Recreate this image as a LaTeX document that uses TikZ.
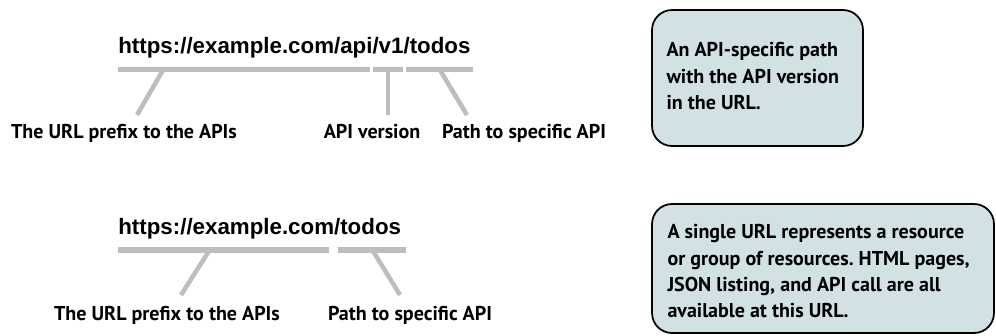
\documentclass[tikz,border=0pt]{standalone}
\usepackage{fontspec}
\setmainfont{PT Sans}
\newfontfamily\urlfont{Liberation Sans}
\usetikzlibrary{positioning}
\definecolor{bargray}{RGB}{188,190,192}
\definecolor{notefill}{RGB}{210,225,228}
\frenchspacing

\begin{document}
\begin{tikzpicture}[
    x=0.02cm, y=-0.02cm,
    url/.style={anchor=base west, inner sep=0pt, font=\urlfont\bfseries\fontsize{12.7}{15}\selectfont},
    part/.style={anchor=base, inner sep=0pt, font=\bfseries\fontsize{11.4}{15}\selectfont},
    bar/.style={draw=bargray, line width=2.9pt},
    leg/.style={draw=bargray, line width=2.6pt},
    notebox/.style={rectangle, draw=black, line width=1pt, fill=notefill, rounded corners=0.4cm},
    notetext/.style={anchor=north west, inner sep=0pt, align=left, font=\bfseries\fontsize{11.4}{15}\selectfont,
        execute at begin node={\setlength{\baselineskip}{15pt}}}
]
\useasboundingbox (0,0) rectangle (996,335);

% Versioned URL
\node[url] (urlv) at (118,53) {https://example.com/api/v1/todos};
\draw[bar] (118,69.5) -- (370,69.5);
\draw[bar] (373,69.5) -- (403,69.5);
\draw[bar] (406,69.5) -- (473,69.5);

\node[part] (prefixv) at (124,138) {The URL prefix to the APIs};
\node[part] (version) at (372,138) {API version};
\node[part] (pathv) at (524,138) {Path to specific API};

\coordinate (prefixvtop) at (163,70);
\coordinate (prefixvend) at (137,115);
\coordinate (versiontop) at (388,70);
\coordinate (versionend) at (388,115);
\coordinate (pathvtop) at (440,70);
\coordinate (pathvend) at (467,115);

\draw[leg] (prefixvtop) -- (prefixvend);
\draw[leg] (versiontop) -- (versionend);
\draw[leg] (pathvtop) -- (pathvend);

% Plain URL
\node[url] (urlp) at (118,234) {https://example.com/todos};
\draw[bar] (118,250) -- (329,250);
\draw[bar] (338,250) -- (406,250);

\node[part] (prefixp) at (167,320) {The URL prefix to the APIs};
\node[part] (pathp) at (410,320) {Path to specific API};

\coordinate (prefixptop) at (209,251);
\coordinate (prefixpend) at (181,295);
\coordinate (pathptop) at (373,251);
\coordinate (pathpend) at (400,295);

\draw[leg] (prefixptop) -- (prefixpend);
\draw[leg] (pathptop) -- (pathpend);

% Notes
\node[notebox, minimum width=4.22cm, minimum height=2.72cm] (notevbox) at (757.5,78) {};
\node[notetext] (notev) at ([shift={(15,33)}]notevbox.north west)
    {An API-specific path\\with the API version\\in the URL.};

\node[notebox, minimum width=6.84cm, minimum height=2.58cm] (notepbox) at (823,268.5) {};
\node[notetext] (notep) at ([shift={(16,21)}]notepbox.north west)
    {A single URL represents a resource\\or group of resources. HTML pages,\\JSON listing, and API call are all\\available at this URL.};

\end{tikzpicture}
\end{document}
